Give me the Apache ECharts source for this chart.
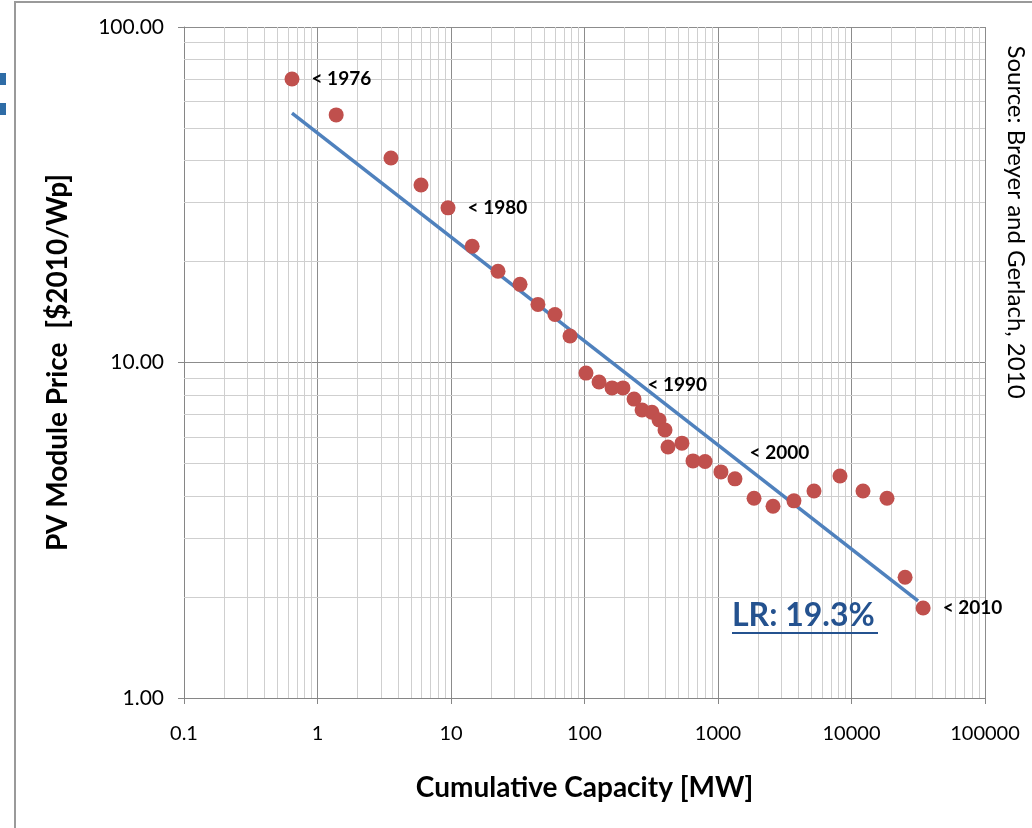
<!DOCTYPE html>
<html>
<head>
<meta charset="utf-8">
<script src="https://cdn.jsdelivr.net/npm/echarts@6/dist/echarts.min.js"></script>
<style>
  html, body { margin: 0; padding: 0; background: #fff; }
  #chart { width: 1032px; height: 828px; }
</style>
</head>
<body>
<div id="chart"></div>
<script>
// cumulative capacity [MW] and module price [$2010/Wp]
const capacity = [0.644, 1.38, 3.55, 5.96, 9.5, 14.4, 22.5, 32.9, 44.8, 60.1, 77.9,
  102.6, 128.5, 160.8, 194, 235, 270, 320, 362, 401, 422, 537, 650, 800, 1052, 1340,
  1862, 2583, 3706, 5236, 8200, 12190, 18450, 25200, 34400];
const price = [70.0, 54.7, 40.7, 33.8, 28.9, 22.2, 18.7, 17.1, 14.9, 13.9, 12.0,
  9.3, 8.75, 8.40, 8.40, 7.78, 7.22, 7.11, 6.74, 6.29, 5.60, 5.75, 5.09, 5.07, 4.72, 4.50,
  3.94, 3.73, 3.87, 4.14, 4.59, 4.14, 3.94, 2.29, 1.855];
// year labels: index of point -> text
const yearLabels = { 0: '< 1976', 4: '< 1980', 14: '< 1990', 23: '< 2000', 34: '< 2010' };
// experience curve fit (LR 19.3%)
const trendX = [0.644, 31500];
const trendY = [55.4, 1.946];

const xTicks = [0.1, 1, 10, 100, 1000, 10000, 100000];
const xTickLabels = ['0.1', '1', '10', '100', '1000', '10000', '100000'];
const yTicks = [1, 10, 100];
const yTickLabels = ['1.00', '10.00', '100.00'];

const FONT = 'Lato';
const chartDom = document.getElementById('chart');
const chart = echarts.init(chartDom);

// minor grid lines at 2..9 of each decade
const xMinor = [];
for (let d = 0.1; d < 100000; d *= 10) for (let m = 2; m <= 9; m++) xMinor.push(+(d * m).toPrecision(3));
const yMinor = [];
for (let d = 1; d < 100; d *= 10) for (let m = 2; m <= 9; m++) yMinor.push(d * m);

const labelOffsets = { 0: [0, 0], 4: [0, 0], 14: [5, -3], 23: [25, -9], 34: [0, 0] };

const scatterData = capacity.map((c, i) => {
  const item = { value: [c, price[i]] };
  if (yearLabels[i]) {
    item.label = {
      show: true,
      position: 'right',
      distance: 12,
      offset: labelOffsets[i],
      formatter: yearLabels[i],
      color: '#000',
      fontFamily: FONT,
      fontWeight: 'bold',
      fontSize: 19
    };
  }
  return item;
});

chart.setOption({
  animation: false,
  backgroundColor: '#fff',
  grid: { left: 184, top: 27, right: 47, bottom: 130, containLabel: false },
  xAxis: {
    type: 'log',
    logBase: 10,
    min: 0.1,
    max: 100000,
    name: 'Cumulative Capacity [MW]',
    nameLocation: 'middle',
    nameGap: 76,
    nameTextStyle: { fontFamily: FONT, fontWeight: 'bold', fontSize: 28, color: '#000' },
    axisLine: { show: true, lineStyle: { color: '#868686', width: 1 } },
    axisTick: { show: true, length: 6, lineStyle: { color: '#868686' } },
    axisLabel: {
      margin: 26,
      fontFamily: FONT, fontSize: 20, color: '#000',
      formatter: v => xTickLabels[xTicks.findIndex(t => Math.abs(Math.log10(t) - Math.log10(v)) < 1e-6)] || ''
    },
    splitLine: { show: true, lineStyle: { color: '#8c8c8c', width: 1 } }
  },
  yAxis: {
    type: 'log',
    logBase: 10,
    min: 1,
    max: 100,
    name: 'PV Module Price  [$2010/Wp]',
    nameLocation: 'middle',
    nameGap: 112,
    nameRotate: 90,
    nameTextStyle: { fontFamily: FONT, fontWeight: 'bold', fontSize: 28, color: '#000' },
    axisLine: { show: true, lineStyle: { color: '#868686', width: 1 } },
    axisTick: { show: true, length: 6, lineStyle: { color: '#868686' } },
    axisLabel: {
      margin: 20,
      fontFamily: FONT, fontSize: 21, color: '#000',
      formatter: v => yTickLabels[yTicks.findIndex(t => Math.abs(Math.log10(t) - Math.log10(v)) < 1e-6)] || ''
    },
    splitLine: { show: true, lineStyle: { color: '#8c8c8c', width: 1 } }
  },
  series: [
    {
      type: 'scatter',
      data: [],
      z: 1,
      silent: true,
      markLine: {
        silent: true,
        z: 1,
        symbol: ['none', 'none'],
        label: { show: false },
        lineStyle: { color: '#cfcfcf', width: 1, type: 'solid' },
        data: xMinor.map(v => ({ xAxis: v })).concat(yMinor.map(v => ({ yAxis: v })))
      }
    },
    {
      type: 'line',
      data: trendX.map((x, i) => [x, trendY[i]]),
      symbol: 'none',
      z: 3,
      lineStyle: { color: '#4f81bd', width: 3.5 }
    },
    {
      type: 'scatter',
      data: scatterData,
      symbolSize: 15,
      z: 4,
      itemStyle: { color: '#c0504d', opacity: 1 }
    }
  ],
  graphic: [
    { type: 'rect', shape: { x: 15, y: 2, width: 1040, height: 860 }, style: { fill: 'none', stroke: '#9a9a9a', lineWidth: 2 }, z: 0 },
    { type: 'rect', shape: { x: 0, y: 73, width: 6, height: 12 }, style: { fill: '#2e6ca6' } },
    { type: 'rect', shape: { x: 0, y: 103, width: 6, height: 12 }, style: { fill: '#2e6ca6' } },
    {
      type: 'text', x: 1016, y: 222, rotation: -Math.PI / 2, z: 100,
      style: { text: 'Source: Breyer and Gerlach, 2010', font: '24px Lato', fill: '#000', textAlign: 'center', textVerticalAlign: 'middle' }
    },
    {
      type: 'text', x: 732, y: 616, z: 100,
      style: { text: 'LR: 19.3%', font: 'bold 32px Lato', fill: '#24528f', textAlign: 'left', textVerticalAlign: 'middle' }
    },
    { type: 'line', z: 100, shape: { x1: 732, y1: 633, x2: 878, y2: 633 }, style: { stroke: '#24528f', lineWidth: 2 } }
  ]
});
</script>
</body>
</html>
